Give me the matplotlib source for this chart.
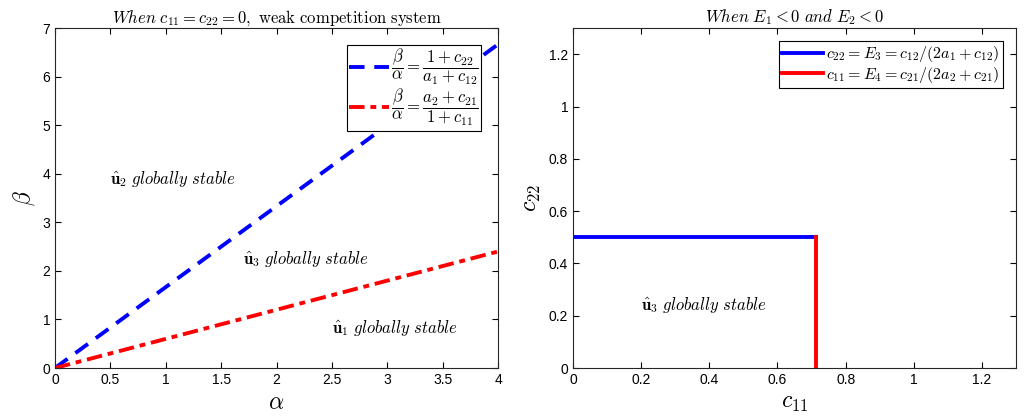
import matplotlib
matplotlib.use("Agg")
import matplotlib.pyplot as plt
import numpy as np

plt.rcParams['mathtext.fontset'] = 'cm'
plt.rcParams['font.family'] = ['Liberation Sans', 'DejaVu Sans']

# left panel: boundary lines beta = slope * alpha
alpha_range = [0, 4]
blue_slope = 5 / 3      # (1 + c22) / (a1 + c12)
red_slope = 0.6         # (a2 + c21) / (1 + c11)

# right panel: critical values
E3 = 0.5
E4 = 0.714

left_labels = [(0.5, 3.9, 2), (1.7, 2.25, 3), (2.5, 0.82, 1)]


def style_axes(ax):
    ax.tick_params(direction='in', top=True, right=True, labelsize=10, length=4)
    for s in ax.spines.values():
        s.set_linewidth(0.8)
        s.set_color('#262626')


fig = plt.figure(figsize=(10.26, 4.18), dpi=100)
ax1 = fig.add_axes([0.0536, 0.1196, 0.4318, 0.813])
ax2 = fig.add_axes([0.5585, 0.1196, 0.4318, 0.813])

a = np.array(alpha_range, dtype=float)
ax1.plot(a, blue_slope * a, color='blue', ls=(0, (4, 2.5)), lw=2.8,
         label=r'$\dfrac{\beta}{\alpha}=\dfrac{1+c_{22}}{a_1+c_{12}}$')
ax1.plot(a, red_slope * a, color='red', ls=(0, (4, 1.5, 1.5, 1.5)), lw=2.8,
         label=r'$\dfrac{\beta}{\alpha}=\dfrac{a_2+c_{21}}{1+c_{11}}$')
ax1.set_xlim(0, 4)
ax1.set_ylim(0, 7)
ax1.set_xticks([0, 0.5, 1, 1.5, 2, 2.5, 3, 3.5, 4])
ax1.set_xticklabels(['0', '0.5', '1', '1.5', '2', '2.5', '3', '3.5', '4'])
ax1.set_yticks(range(8))
for x, y, k in left_labels:
    ax1.text(x, y, r'$\hat{\mathbf{u}}_{\mathbf{%d}}\ globally\ stable$' % k,
             fontsize=12, va='center')
ax1.set_xlabel(r'$\alpha$', fontsize=17)
ax1.set_ylabel(r'$\beta$', fontsize=17)
ax1.set_title(r'$When\ c_{11}=c_{22}=0,\ \mathrm{weak\ competition\ system}$',
              fontsize=12, pad=4)
leg1 = ax1.legend(loc='upper right', fontsize=12, frameon=True, fancybox=False,
                  framealpha=1, edgecolor='black', borderpad=0.15,
                  labelspacing=0.0, handlelength=2.4, handletextpad=0.1,
                  borderaxespad=1.0)
leg1.get_frame().set_linewidth(0.8)
style_axes(ax1)

ax2.plot([0, E4], [E3, E3], color='blue', lw=2.8,
         label=r'$c_{22}=E_3=c_{12}/(2a_1+c_{12})$')
ax2.plot([E4, E4], [0, E3], color='red', lw=2.8,
         label=r'$c_{11}=E_4=c_{21}/(2a_2+c_{21})$')
ax2.set_xlim(0, 1.3)
ax2.set_ylim(0, 1.3)
ticks = [0, 0.2, 0.4, 0.6, 0.8, 1, 1.2]
tick_lbls = ['0', '0.2', '0.4', '0.6', '0.8', '1', '1.2']
ax2.set_xticks(ticks)
ax2.set_xticklabels(tick_lbls)
ax2.set_yticks(ticks)
ax2.set_yticklabels(tick_lbls)
ax2.text(0.2, 0.24, r'$\hat{\mathbf{u}}_{\mathbf{3}}\ globally\ stable$',
         fontsize=12, va='center')
ax2.set_xlabel(r'$c_{11}$', fontsize=17)
ax2.set_ylabel(r'$c_{22}$', fontsize=17)
ax2.set_title(r'$When\ E_1<0\ and\ E_2<0$', fontsize=12, pad=4)
leg2 = ax2.legend(loc='upper right', fontsize=11.5, frameon=True, fancybox=False,
                  framealpha=1, edgecolor='black', borderpad=0.2,
                  labelspacing=0.05, handlelength=2.6, handletextpad=0.2,
                  borderaxespad=0.8)
leg2.get_frame().set_linewidth(0.8)
style_axes(ax2)

fig.savefig('out.png', dpi=100)
